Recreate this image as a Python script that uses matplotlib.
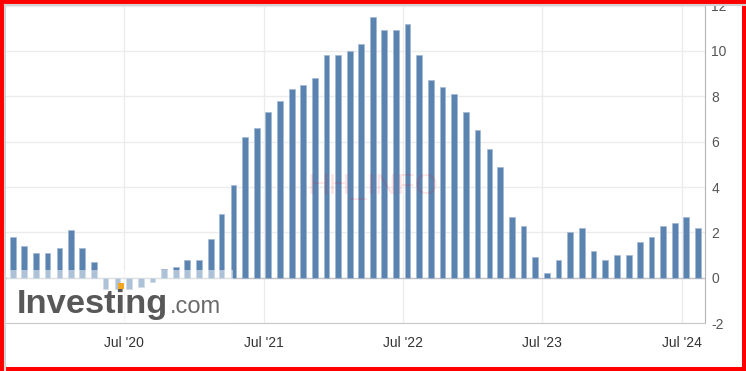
import matplotlib
matplotlib.use("Agg")
import matplotlib.pyplot as plt
from matplotlib.patches import Rectangle
from matplotlib.lines import Line2D
import pandas as pd

# monthly readings, Sep 2019 .. Aug 2024
months = pd.period_range("2019-09", "2024-08", freq="M").strftime("%Y-%m").tolist()
values = [1.8, 1.4, 1.1, 1.1, 1.3, 2.1, 1.3, 0.7, -0.5, -0.5,
          -0.5, -0.4, -0.2, 0.4, 0.5, 0.8, 0.8, 1.7, 2.8, 4.1,
          6.2, 6.6, 7.3, 7.8, 8.3, 8.5, 8.8, 9.8, 9.8, 10.0,
          10.3, 11.5, 10.9, 10.9, 11.2, 9.8, 8.7, 8.4, 8.1, 7.3,
          6.5, 5.7, 4.9, 2.7, 2.3, 0.9, 0.2, 0.8, 2.0, 2.2,
          1.2, 0.8, 1.0, 1.0, 1.6, 1.8, 2.3, 2.4, 2.7, 2.2]
tick_dates = ["2020-07-01", "2021-07-01", "2022-07-01", "2023-07-01", "2024-07-01"]
tick_labels = ["Jul '20", "Jul '21", "Jul '22", "Jul '23", "Jul '24"]
y_ticks = [-2, 0, 2, 4, 6, 8, 10, 12]

W, H = 746, 371
BAR = "#5b83b0"

plt.rcParams["font.family"] = ["Liberation Sans", "DejaVu Sans"]


def fx(px):
    return px / W


def fy(py):
    return 1 - py / H


fig = plt.figure(figsize=(W / 100, H / 100), dpi=100)
ax = fig.add_axes([fx(6), fy(323.3), fx(705) - fx(6), (323.3 - 5.5) / H])

dates = pd.to_datetime(months) + pd.Timedelta(days=12)
ax.bar(dates, values, width=15, color=BAR, edgecolor="#a3b8d3", linewidth=0.5, zorder=3)
ax.axhline(0, color="#c4c4c4", lw=1, zorder=2)

ax.set_xlim(pd.Timestamp("2019-08-26"), pd.Timestamp("2024-08-31"))
ax.set_ylim(-2, 12)
ax.set_xticks(pd.to_datetime(tick_dates))
ax.set_xticklabels(tick_labels)
ax.yaxis.tick_right()
ax.set_yticks(y_ticks)
ax.set_yticklabels([str(v) for v in y_ticks])
ax.tick_params(axis="x", length=0, pad=9.5, labelsize=10, labelcolor="#333333")
ax.tick_params(axis="y", length=0, pad=4.5, labelsize=10, labelcolor="#555555")

ax.set_axisbelow(True)
ax.grid(color="#ececec", lw=1)
for s in ["top", "left"]:
    ax.spines[s].set_visible(False)
ax.spines["right"].set_color("#b5b5b5")
ax.spines["bottom"].set_color("#c8c8c8")

# logo box
ax.add_patch(Rectangle((fx(7), fy(323.3)), fx(233) - fx(7), (323.3 - 270) / H,
                       transform=fig.transFigure, facecolor="white", alpha=0.5,
                       edgecolor="none", zorder=4))
logo_size = 24.8
ax.text(fx(17), fy(313), "Investing", transform=fig.transFigure, fontsize=logo_size,
        fontweight="bold", color="#585858", ha="left", va="baseline", zorder=5)
ax.text(fx(170), fy(313), ".com", transform=fig.transFigure, fontsize=17,
        color="#6a6a6a", ha="left", va="baseline", zorder=5)

# orange dot over the "i" of Invest|ing
probe = ax.text(fx(17), fy(313), "Invest", transform=fig.transFigure, fontsize=logo_size,
                fontweight="bold", alpha=0, ha="left", va="baseline")
fig.canvas.draw()
bb = probe.get_window_extent()
em = logo_size * 100 / 72
dot_x = bb.x1 + 0.139 * em
ax.add_patch(Rectangle((dot_x / W - 3 / W, fy(289)), 6 / W, 6 / H, transform=fig.transFigure,
                       facecolor="#f5a623", edgecolor="none", zorder=6, clip_on=False))
probe.remove()

# watermark
ax.text(fx(372.5), fy(186), "HH_INFO", transform=fig.transFigure, fontsize=21.5,
        color="red", alpha=0.1, ha="center", va="center", zorder=6)

# frame
fig.add_artist(Line2D([fx(5), fx(5)], [0, fy(5)], color="#d4d4d4", lw=1.5))
fig.add_artist(Line2D([fx(5), 1], [fy(5), fy(5)], color="#d4d4d4", lw=1.5))
fig.add_artist(Rectangle((0, 0), 1, 1, transform=fig.transFigure, fill=False,
                         edgecolor="red", linewidth=5.8))

fig.savefig("out.png", dpi=100)
